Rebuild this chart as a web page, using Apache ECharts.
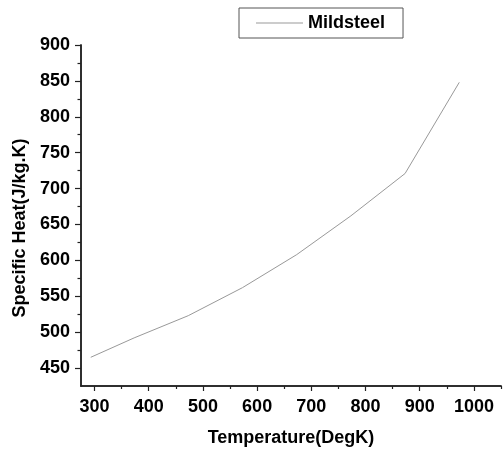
<!DOCTYPE html>
<html>
<head>
<meta charset="utf-8">
<script src="https://cdn.jsdelivr.net/npm/echarts@6/dist/echarts.min.js"></script>
<style>
html,body{margin:0;padding:0;background:#fff;}
#chart{width:503px;height:454px;}
</style>
</head>
<body>
<div id="chart"></div>
<script>
var temperatures = [293, 373, 473, 573, 673, 773, 873, 973];
var specificHeat = [465, 492, 523, 562, 608, 662, 721, 848];
var xMajorTicks = [300, 400, 500, 600, 700, 800, 900, 1000];
var xMinorTicks = [350, 450, 550, 650, 750, 850, 950, 1050];
var yMajorTicks = [450, 500, 550, 600, 650, 700, 750, 800, 850, 900];
var yMinorTicks = [475, 525, 575, 625, 675, 725, 775, 825, 875];
var seriesName = 'Mildsteel';

var FONT = "'Liberation Sans', Arial, sans-serif";
var AXIS_COLOR = '#222';
var chart = echarts.init(document.getElementById('chart'), null, {renderer: 'canvas'});

var points = temperatures.map(function (t, i) { return [t, specificHeat[i]]; });

function plain(v) { return String(v); }

function xAxisBase() {
  return {
    type: 'value', min: 275, max: 1050, position: 'bottom',
    splitLine: {show: false},
    axisLine: {show: true, lineStyle: {color: AXIS_COLOR, width: 1.5}}
  };
}
function yAxisBase() {
  return {
    type: 'value', min: 425, max: 900, position: 'left',
    splitLine: {show: false},
    axisLine: {show: true, lineStyle: {color: AXIS_COLOR, width: 1.5}}
  };
}

var xMain = Object.assign(xAxisBase(), {
  name: 'Temperature(DegK)', nameLocation: 'middle', nameGap: 43,
  nameTextStyle: {fontFamily: FONT, fontWeight: 'bold', fontSize: 18, color: '#000'},
  axisTick: {show: true, inside: false, length: 5, customValues: xMajorTicks, lineStyle: {color: AXIS_COLOR, width: 1.2}},
  axisLabel: {show: true, customValues: xMajorTicks, formatter: plain, margin: 12, fontFamily: FONT, fontWeight: 'bold', fontSize: 18, color: '#000'}
});
var xMinor = Object.assign(xAxisBase(), {
  axisTick: {show: true, inside: false, length: 3, customValues: xMinorTicks, lineStyle: {color: AXIS_COLOR, width: 1.2}},
  axisLabel: {show: false}
});
var yMain = Object.assign(yAxisBase(), {
  name: 'Specific Heat(J/kg.K)', nameLocation: 'middle', nameGap: 51,
  nameTextStyle: {fontFamily: FONT, fontWeight: 'bold', fontSize: 18, color: '#000', padding: [0, 25, 0, 0]},
  axisTick: {show: true, inside: false, length: 6, customValues: yMajorTicks, lineStyle: {color: AXIS_COLOR, width: 1.2}},
  axisLabel: {show: true, customValues: yMajorTicks, formatter: plain, margin: 11, fontFamily: FONT, fontWeight: 'bold', fontSize: 18, color: '#000'}
});
var yMinor = Object.assign(yAxisBase(), {
  axisTick: {show: true, inside: false, length: 3.5, customValues: yMinorTicks, lineStyle: {color: AXIS_COLOR, width: 1.2}},
  axisLabel: {show: false}
});

chart.setOption({
  animation: false,
  backgroundColor: '#fff',
  grid: {left: 81, right: 2, top: 45, bottom: 68, containLabel: false},
  legend: {
    show: true, left: 239, top: 8,
    data: [{name: seriesName, icon: 'rect'}],
    itemWidth: 47, itemHeight: 1,
    padding: [6, 18, 6, 17],
    borderColor: '#555', borderWidth: 1,
    textStyle: {fontFamily: FONT, fontWeight: 'bold', fontSize: 18, color: '#000', lineHeight: 18}
  },
  xAxis: [xMain, xMinor],
  yAxis: [yMain, yMinor],
  series: [{
    name: seriesName,
    type: 'line',
    xAxisIndex: 0, yAxisIndex: 0,
    data: points,
    showSymbol: false,
    symbol: 'none',
    lineStyle: {color: '#999', width: 1},
    itemStyle: {color: '#999'}
  }]
});
</script>
</body>
</html>
